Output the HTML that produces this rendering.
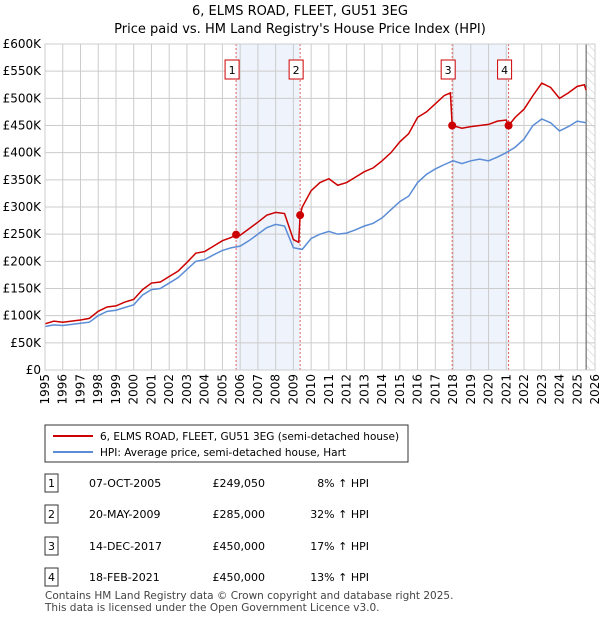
<!DOCTYPE html>
<html><head><meta charset="utf-8"><style>
body{margin:0;background:#fff;font-family:"Liberation Sans","DejaVu Sans",sans-serif;}
svg text{font-family:"DejaVu Sans","Liberation Sans",sans-serif;}
</style></head><body>
<svg id="c" width="600" height="620" xmlns="http://www.w3.org/2000/svg">
<text x="300" y="15" text-anchor="middle" font-size="13">6, ELMS ROAD, FLEET, GU51 3EG</text>
<text x="300" y="33" text-anchor="middle" font-size="13">Price paid vs. HM Land Registry's House Price Index (HPI)</text>
<g id="plot"></g>
<g>
<rect x="45" y="425" width="363" height="37" fill="#fff" stroke="#333"/>
<line x1="53" y1="436" x2="93" y2="436" stroke="#cc0000" stroke-width="2"/>
<text x="100" y="440" font-size="10.5">6, ELMS ROAD, FLEET, GU51 3EG (semi-detached house)</text>
<line x1="53" y1="452" x2="93" y2="452" stroke="#5b8dd6" stroke-width="2"/>
<text x="100" y="456" font-size="10.5">HPI: Average price, semi-detached house, Hart</text>
</g>
<g id="tbl" font-size="11"></g>
<text x="45" y="599" font-size="10.5" fill="#444">Contains HM Land Registry data © Crown copyright and database right 2025.</text>
<text x="45" y="611" font-size="10.5" fill="#444">This data is licensed under the Open Government Licence v3.0.</text>
</svg>
<script>
const hpiYears=[1995,1995.5,1996,1996.5,1997,1997.5,1998,1998.5,1999,1999.5,2000,2000.5,2001,2001.5,2002,2002.5,2003,2003.5,2004,2004.5,2005,2005.5,2006,2006.5,2007,2007.5,2008,2008.5,2009,2009.5,2010,2010.5,2011,2011.5,2012,2012.5,2013,2013.5,2014,2014.5,2015,2015.5,2016,2016.5,2017,2017.5,2018,2018.5,2019,2019.5,2020,2020.5,2021,2021.5,2022,2022.5,2023,2023.5,2024,2024.5,2025,2025.5];
const hpiValues=[80,83,82,84,86,88,100,108,110,115,120,138,148,150,160,170,185,200,203,212,220,225,228,238,250,262,268,265,225,222,242,250,255,250,252,258,265,270,280,295,310,320,345,360,370,378,385,380,385,388,385,392,400,410,425,450,462,455,440,448,458,455];
const priceYears=[1995,1995.5,1996,1996.5,1997,1997.5,1998,1998.5,1999,1999.5,2000,2000.5,2001,2001.5,2002,2002.5,2003,2003.5,2004,2004.5,2005,2005.5,2005.77,2006,2006.5,2007,2007.5,2008,2008.5,2009,2009.3,2009.38,2009.5,2010,2010.5,2011,2011.5,2012,2012.5,2013,2013.5,2014,2014.5,2015,2015.5,2016,2016.5,2017,2017.5,2017.85,2017.95,2018.5,2019,2019.5,2020,2020.5,2021,2021.13,2021.5,2022,2022.5,2023,2023.5,2024,2024.5,2025,2025.4,2025.5];
const priceValues=[85,90,88,90,92,95,108,116,118,125,130,148,160,162,172,182,198,215,218,228,238,244,249,248,260,272,285,290,288,240,235,285,300,330,345,352,340,345,355,365,372,385,400,420,435,465,475,490,505,510,450,445,448,450,452,458,460,450,465,480,505,528,520,500,510,522,525,515];
const saleYears=[2005.77,2009.38,2017.95,2021.13];
const saleValues=[249.05,285,450,450];
const saleLabels=["1","2","3","4"];
const saleDates=["07-OCT-2005","20-MAY-2009","14-DEC-2017","18-FEB-2021"];
const salePrices=["£249,050","£285,000","£450,000","£450,000"];
const salePcts=["8% ↑ HPI","32% ↑ HPI","17% ↑ HPI","13% ↑ HPI"];
const yTicks=[0,50,100,150,200,250,300,350,400,450,500,550,600];
const xTicks=[1995,1996,1997,1998,1999,2000,2001,2002,2003,2004,2005,2006,2007,2008,2009,2010,2011,2012,2013,2014,2015,2016,2017,2018,2019,2020,2021,2022,2023,2024,2025,2026];

const X0=45,X1=595,Y0=370,Y1=44;
const sx=y=>X0+(y-1995)/(2026-1995)*(X1-X0);
const sy=v=>Y0-v/600*(Y0-Y1);
const NS="http://www.w3.org/2000/svg";
const plot=document.getElementById('plot');
function mk(t,a,p){const e=document.createElementNS(NS,t);for(const k in a)e.setAttribute(k,a[k]);(p||plot).appendChild(e);return e;}

for(let i=0;i<4;i+=2){const r=mk('rect',{x:sx(saleYears[i]),y:Y1,width:sx(saleYears[i+1])-sx(saleYears[i]),height:Y0-Y1,fill:'#eef3fc'});

}
const pat=mk('pattern',{id:'h',width:6,height:6,patternUnits:'userSpaceOnUse',patternTransform:'rotate(-45)'});
mk('line',{x1:0,y1:0,x2:0,y2:6,stroke:'#ccc','stroke-width':1},pat);
const ht=mk('rect',{x:sx(2025.5),y:Y1,width:X1-sx(2025.5),height:Y0-Y1,fill:'url(#h)'});


yTicks.forEach(v=>{mk('line',{x1:X0,x2:X1,y1:sy(v),y2:sy(v),stroke:'#ccc'});
const t=mk('text',{x:X0-4,y:sy(v)+4,'text-anchor':'end','font-size':12});t.textContent=(v===0?'£0':'£'+v+'K');

});
xTicks.forEach(y=>{mk('line',{x1:sx(y),x2:sx(y),y1:Y1,y2:Y0,stroke:'#ccc'});
const t=mk('text',{transform:`translate(${sx(y)+4},${Y0+4}) rotate(-90)`,'text-anchor':'end','font-size':12});t.textContent=y;

});
mk('line',{x1:sx(2025.5),x2:sx(2025.5),y1:Y1,y2:Y0,stroke:'#555'});
saleYears.forEach((y,i)=>{const l=mk('line',{x1:sx(y),x2:sx(y),y1:Y1,y2:Y0,stroke:'#e06060','stroke-dasharray':'2,2'});


const bx=sx(y)-11;
mk('rect',{x:bx,y:60,width:14,height:19,fill:'#fff',stroke:'#cc0000'});
const t=mk('text',{x:bx+7,y:74,'text-anchor':'middle','font-size':11});t.textContent=saleLabels[i];

});
const hp=mk('polyline',{points:hpiYears.map((y,i)=>sx(y)+','+sy(hpiValues[i])).join(' '),fill:'none',stroke:'#5b8dd6','stroke-width':1.5});


const pp=mk('polyline',{points:priceYears.map((y,i)=>sx(y)+','+sy(priceValues[i])).join(' '),fill:'none',stroke:'#cc0000','stroke-width':1.5});


saleYears.forEach((y,i)=>{const c=mk('circle',{cx:sx(y),cy:sy(saleValues[i]),r:4,fill:'#cc0000'});

});
mk('rect',{x:X0,y:Y1,width:X1-X0,height:Y0-Y1,fill:'none',stroke:'#ccc'});
const tbl=document.getElementById('tbl');
const rowsY=[483,514,546,577];
rowsY.forEach((ry,i)=>{
const r=mk('rect',{x:45,y:ry-9,width:13,height:18,fill:'#fff',stroke:'#333'},tbl);


const a=mk('text',{x:51.5,y:ry+4,'text-anchor':'middle'},tbl);a.textContent=saleLabels[i];
const d=mk('text',{x:89,y:ry+4},tbl);d.textContent=saleDates[i];


const p=mk('text',{x:265,y:ry+4,'text-anchor':'end'},tbl);p.textContent=salePrices[i];


const h=mk('text',{x:369,y:ry+4,'text-anchor':'end'},tbl);h.textContent=salePcts[i];


});
</script>
</body></html>
